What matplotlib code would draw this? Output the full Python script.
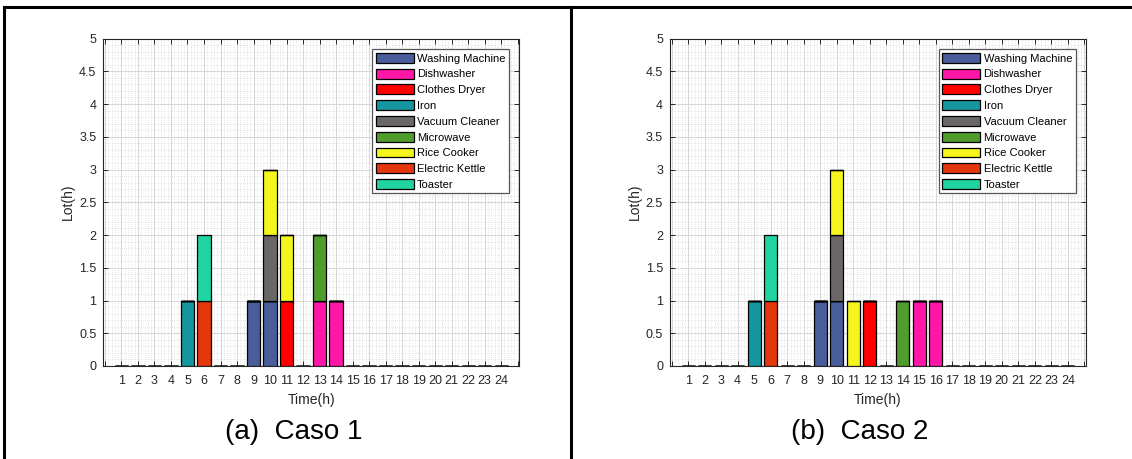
import matplotlib
matplotlib.use("Agg")
import matplotlib.pyplot as plt
import numpy as np
from matplotlib.lines import Line2D
from matplotlib.ticker import MultipleLocator, FixedLocator, FormatStrFormatter

plt.rcParams['font.family'] = ['Liberation Sans', 'DejaVu Sans']

hours = list(range(1, 25))
appliances = ["Washing Machine", "Dishwasher", "Clothes Dryer", "Iron",
              "Vacuum Cleaner", "Microwave", "Rice Cooker", "Electric Kettle",
              "Toaster"]
colors = ["#4a5d9b", "#ff17a8", "#ff0000", "#16969f", "#6b6767",
          "#509c2c", "#f5f51e", "#e5370e", "#22d3a2"]

# Operating hours (h) of each appliance, per hour of the day
caso1 = {
    "Washing Machine": {9: 1, 10: 1},
    "Dishwasher": {13: 1, 14: 1},
    "Clothes Dryer": {11: 1},
    "Iron": {5: 1},
    "Vacuum Cleaner": {10: 1},
    "Microwave": {13: 1},
    "Rice Cooker": {10: 1, 11: 1},
    "Electric Kettle": {6: 1},
    "Toaster": {6: 1},
}
caso2 = {
    "Washing Machine": {9: 1, 10: 1},
    "Dishwasher": {15: 1, 16: 1},
    "Clothes Dryer": {12: 1},
    "Iron": {5: 1},
    "Vacuum Cleaner": {10: 1},
    "Microwave": {14: 1},
    "Rice Cooker": {10: 1, 11: 1},
    "Electric Kettle": {6: 1},
    "Toaster": {6: 1},
}
y_ticks = [0, 0.5, 1, 1.5, 2, 2.5, 3, 3.5, 4, 4.5, 5]
captions = ["(a)  Caso 1", "(b)  Caso 2"]

W, H = 1132, 459
fig = plt.figure(figsize=(W / 100, H / 100), dpi=100)

ax_w = 416 / W
ax_h = 327.5 / H
ax_b = (H - 366) / H
lefts = [103.3 / W, 670 / W]

tick_color = "#262626"

for left, data, cap in zip(lefts, [caso1, caso2], captions):
    ax = fig.add_axes([left, ax_b, ax_w, ax_h])
    x = np.array(hours)
    bottom = np.zeros(len(hours))
    for name, col in zip(appliances, colors):
        vals = np.array([data[name].get(h, 0) for h in hours], dtype=float)
        ax.bar(x, vals, width=0.8, bottom=bottom, color=col,
               edgecolor="black", linewidth=0.9, label=name, zorder=3)
        bottom += vals

    ax.set_xlim(-0.1, 25.1)
    ax.set_ylim(0, 5)
    ax.xaxis.set_major_locator(FixedLocator(range(0, 26)))
    ax.set_xticklabels([""] + [str(h) for h in hours] + [""])
    ax.xaxis.set_minor_locator(MultipleLocator(0.2))
    ax.yaxis.set_major_locator(FixedLocator(y_ticks))
    ax.yaxis.set_major_formatter(FormatStrFormatter("%g"))
    ax.yaxis.set_minor_locator(MultipleLocator(0.1))

    ax.grid(True, which="major", color="#d6d6d6", linewidth=0.7, zorder=0)
    ax.grid(True, which="minor", color="#cfcfcf", linewidth=0.5,
            linestyle=(0, (1, 2)), zorder=0)
    ax.set_axisbelow(True)

    ax.tick_params(which="major", direction="in", length=3.5, width=0.7,
                   top=True, right=True, colors=tick_color, labelsize=9)
    ax.tick_params(axis="x", which="major", pad=6.5)
    ax.tick_params(axis="y", which="major", pad=5)
    ax.tick_params(which="minor", length=0, top=True, right=True)
    for sp in ax.spines.values():
        sp.set_color(tick_color)
        sp.set_linewidth(0.8)

    ax.set_xlabel("Time(h)", fontsize=10, color=tick_color, labelpad=4)
    ax.set_ylabel("Lot(h)", fontsize=10, color=tick_color, labelpad=3)

    leg = ax.legend(loc="upper right", bbox_to_anchor=(0.975, 0.967),
                    borderaxespad=0, fontsize=8, handlelength=3.4,
                    handleheight=1.0, labelspacing=0.45, handletextpad=0.3,
                    borderpad=0.32, fancybox=False, framealpha=1,
                    edgecolor="#555555")
    leg.get_frame().set_linewidth(0.9)
    for t in leg.get_texts():
        t.set_color("black")

    cx = left + ax_w / 2 - 18 / W
    fig.text(cx, 1 - 432 / H, cap, ha="center", va="center", fontsize=20)

# Panel frame lines
lw = 2.2
fig.add_artist(Line2D([4 / W, 1], [1 - 7.3 / H, 1 - 7.3 / H], color="black",
                      linewidth=lw, transform=fig.transFigure))
fig.add_artist(Line2D([4 / W, 4 / W], [0, 1 - 7.3 / H], color="black",
                      linewidth=lw, transform=fig.transFigure))
fig.add_artist(Line2D([571 / W, 571 / W], [0, 1 - 7.3 / H], color="black",
                      linewidth=lw, transform=fig.transFigure))

fig.savefig("out.png", dpi=100, facecolor="white")
